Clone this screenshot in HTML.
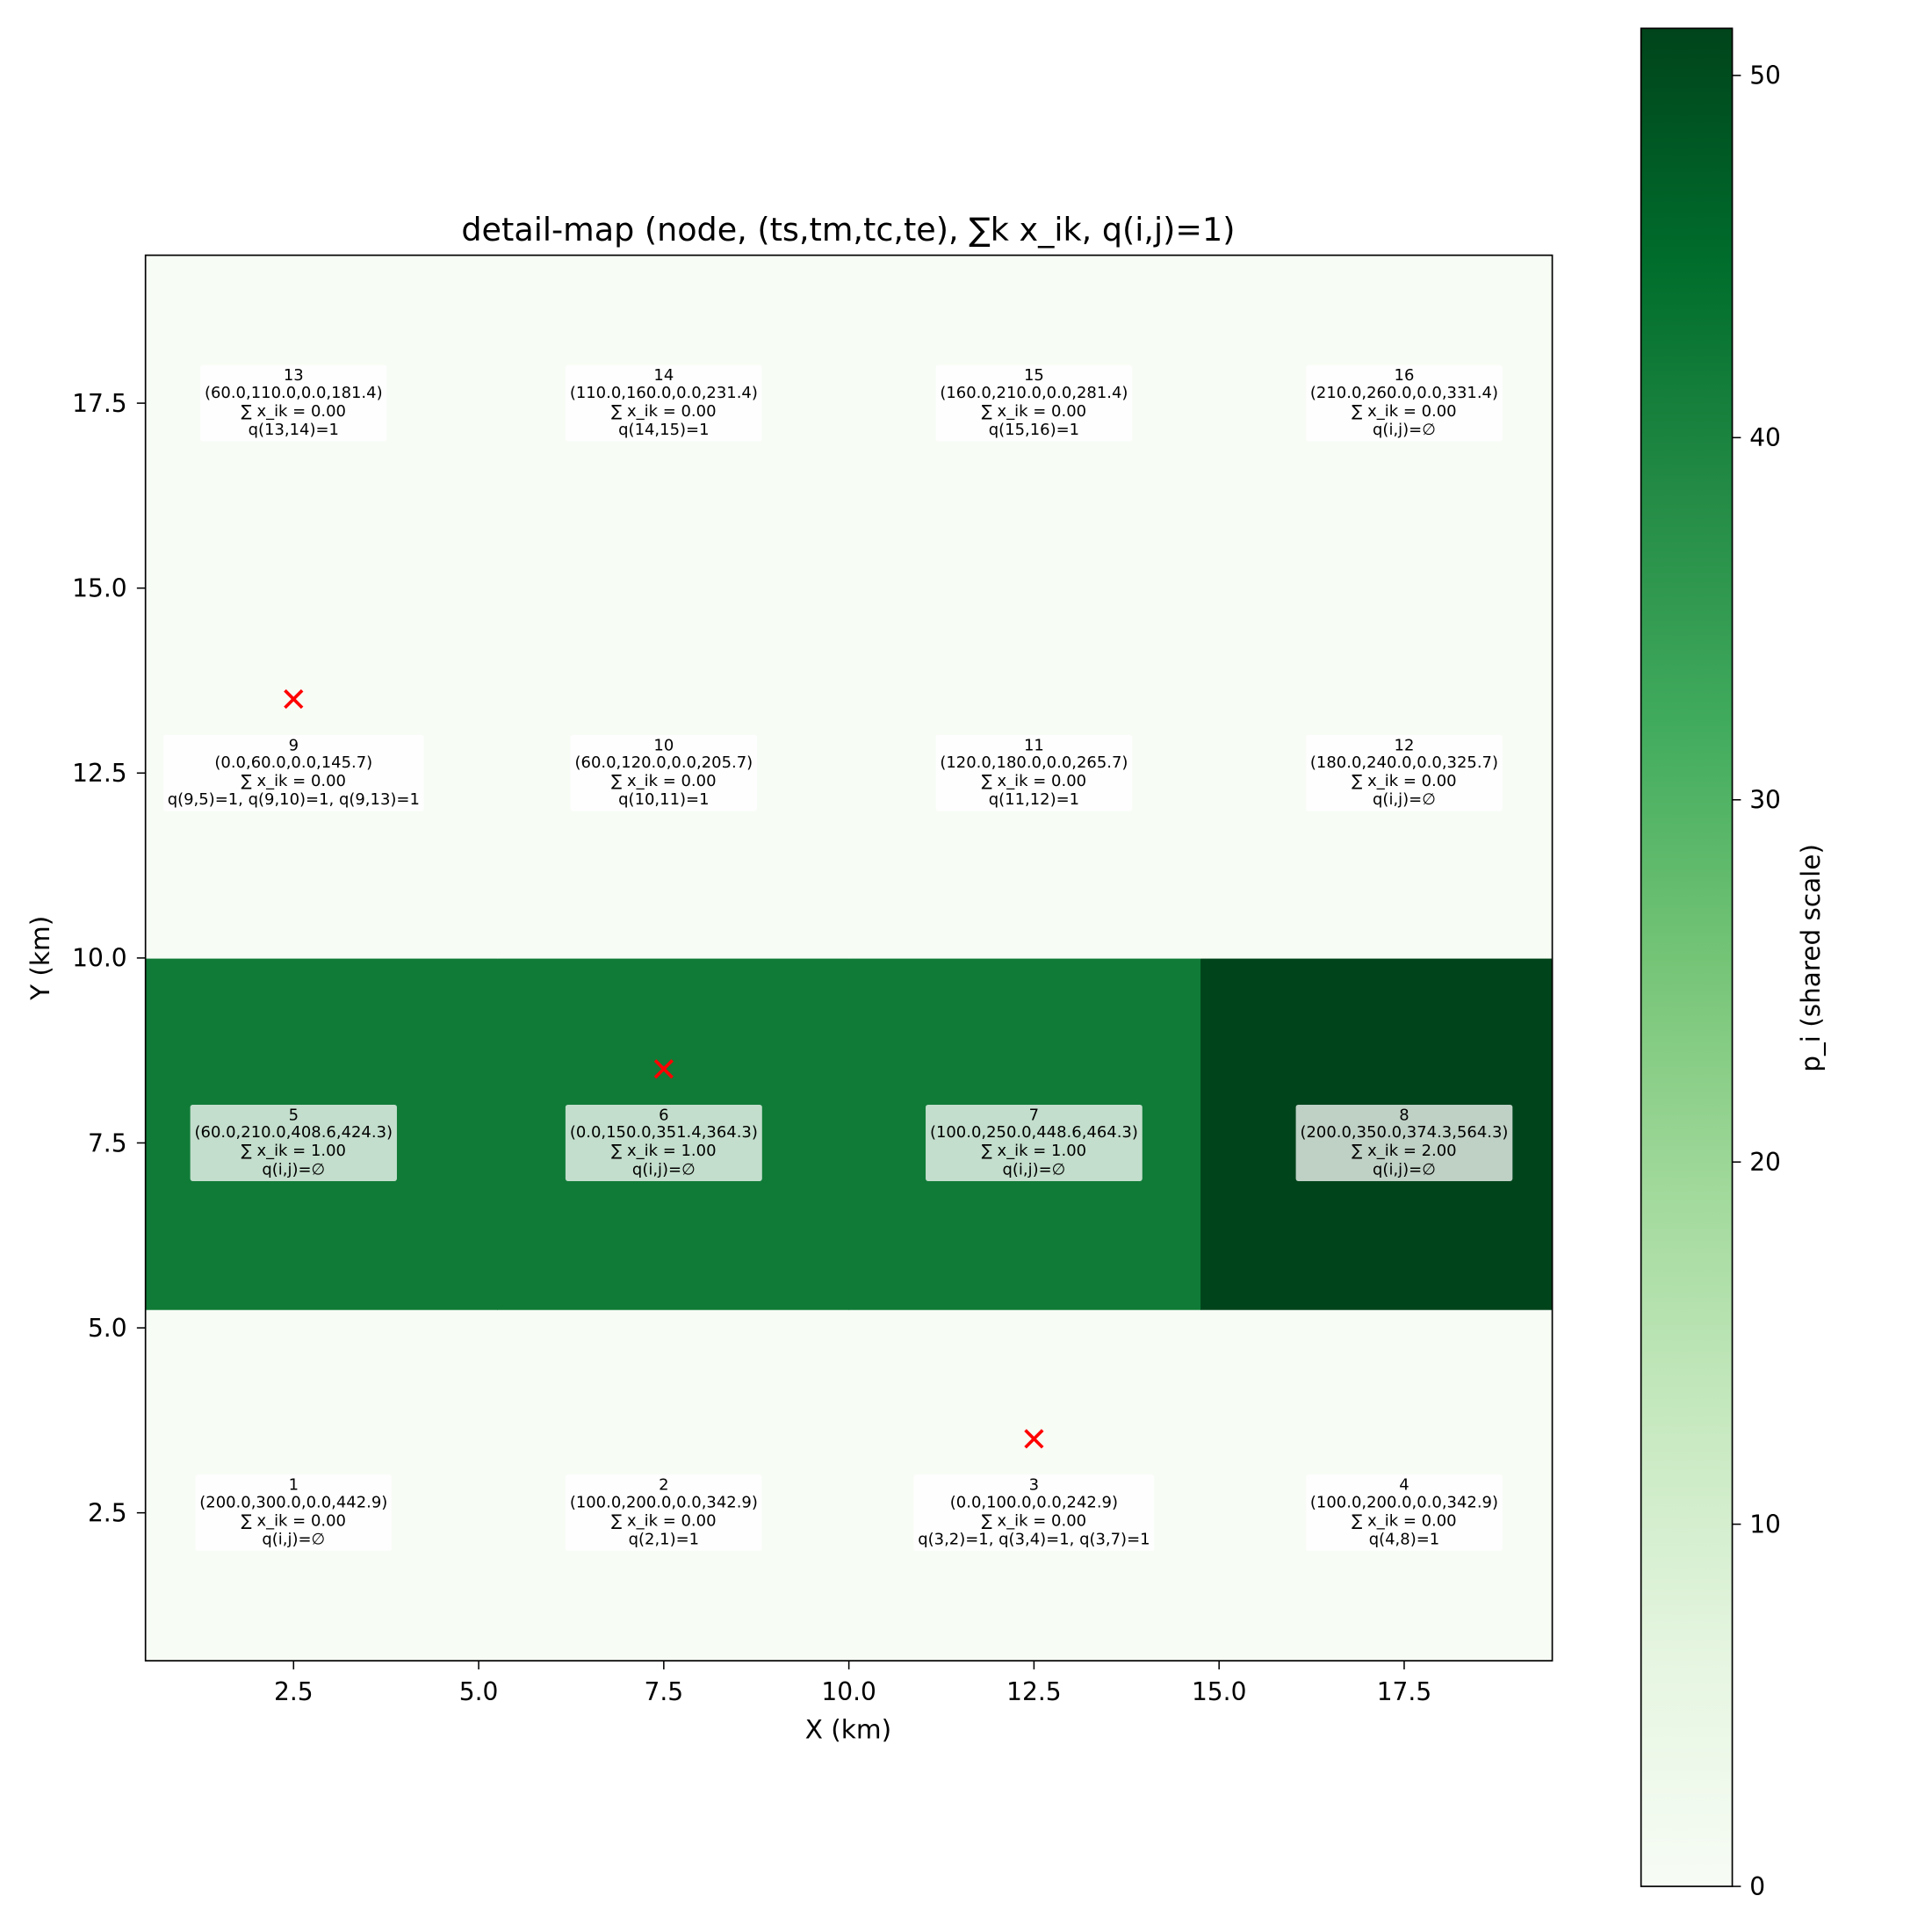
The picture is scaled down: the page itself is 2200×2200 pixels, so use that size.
<!DOCTYPE html>
<html><head><meta charset="utf-8"><style>
html,body{margin:0;padding:0;background:#fff}
svg{display:block}
text{font-family:"DejaVu Sans","Liberation Sans",sans-serif;fill:#000}
</style></head><body>
<svg id="chart" width="2200" height="2200" viewBox="0 0 1567 1567" xmlns="http://www.w3.org/2000/svg">
<g id="cells"></g>
<g id="labels"></g>
<g id="markers"></g>
<rect x="118" y="207" width="1141" height="1140" fill="none" stroke="#000" stroke-width="1.2"/>
<g id="axes"></g>
<text x="688" y="195" font-size="26" text-anchor="middle">detail-map (node, (ts,tm,tc,te), ∑k x_ik, q(i,j)=1)</text>
<text x="688" y="1410" font-size="21" text-anchor="middle">X (km)</text>
<text transform="translate(40,777) rotate(-90)" font-size="21" text-anchor="middle">Y (km)</text>
<defs><linearGradient id="greens" x1="0" y1="1" x2="0" y2="0">
<stop offset="0" stop-color="#f7fcf5"/><stop offset="0.125" stop-color="#e5f5e0"/><stop offset="0.25" stop-color="#c7e9c0"/><stop offset="0.375" stop-color="#a1d99b"/><stop offset="0.5" stop-color="#74c476"/><stop offset="0.625" stop-color="#41ab5d"/><stop offset="0.75" stop-color="#238b45"/><stop offset="0.875" stop-color="#006d2c"/><stop offset="1" stop-color="#00441b"/></linearGradient></defs>
<rect x="1331" y="23" width="74" height="1507" fill="url(#greens)" stroke="#000" stroke-width="1.2"/>
<g id="cbticks"></g>
<text transform="translate(1476,777) rotate(-90)" font-size="21" text-anchor="middle">p_i (shared scale)</text>
</svg>
<script>
const xEdges=[0.5,5.25,10,14.75,19.5];
const yEdges=[0.5,5.25,10,14.75,19.5];
const cellValues=[[0,0,0,0],[42,42,42,51.3],[0,0,0,0],[0,0,0,0]];
const vmax=51.3;
const nodeX=[2.5,7.5,12.5,17.5];
const nodeY=[2.5,7.5,12.5,17.5];
const nodeLabels=[
["1","(200.0,300.0,0.0,442.9)","∑ x_ik = 0.00","q(i,j)=∅"],
["2","(100.0,200.0,0.0,342.9)","∑ x_ik = 0.00","q(2,1)=1"],
["3","(0.0,100.0,0.0,242.9)","∑ x_ik = 0.00","q(3,2)=1, q(3,4)=1, q(3,7)=1"],
["4","(100.0,200.0,0.0,342.9)","∑ x_ik = 0.00","q(4,8)=1"],
["5","(60.0,210.0,408.6,424.3)","∑ x_ik = 1.00","q(i,j)=∅"],
["6","(0.0,150.0,351.4,364.3)","∑ x_ik = 1.00","q(i,j)=∅"],
["7","(100.0,250.0,448.6,464.3)","∑ x_ik = 1.00","q(i,j)=∅"],
["8","(200.0,350.0,374.3,564.3)","∑ x_ik = 2.00","q(i,j)=∅"],
["9","(0.0,60.0,0.0,145.7)","∑ x_ik = 0.00","q(9,5)=1, q(9,10)=1, q(9,13)=1"],
["10","(60.0,120.0,0.0,205.7)","∑ x_ik = 0.00","q(10,11)=1"],
["11","(120.0,180.0,0.0,265.7)","∑ x_ik = 0.00","q(11,12)=1"],
["12","(180.0,240.0,0.0,325.7)","∑ x_ik = 0.00","q(i,j)=∅"],
["13","(60.0,110.0,0.0,181.4)","∑ x_ik = 0.00","q(13,14)=1"],
["14","(110.0,160.0,0.0,231.4)","∑ x_ik = 0.00","q(14,15)=1"],
["15","(160.0,210.0,0.0,281.4)","∑ x_ik = 0.00","q(15,16)=1"],
["16","(210.0,260.0,0.0,331.4)","∑ x_ik = 0.00","q(i,j)=∅"]];
const markerX=[2.5,7.5,12.5];
const markerY=[13.5,8.5,3.5];
const xTicks=[2.5,5.0,7.5,10.0,12.5,15.0,17.5];
const yTicks=[2.5,5.0,7.5,10.0,12.5,15.0,17.5];
const cbTicks=[0,10,20,30,40,50];

const NS="http://www.w3.org/2000/svg";
const X=v=>118+(v-0.5)/19*1141;
const Y=v=>1347-(v-0.5)/19*1140;
const CB=v=>1530-v/vmax*1507;
const stops=["#f7fcf5","#e5f5e0","#c7e9c0","#a1d99b","#74c476","#41ab5d","#238b45","#006d2c","#00441b"];
function color(v){let t=Math.max(0,Math.min(1,v/vmax))*8;let i=Math.min(7,Math.floor(t)),f=t-i;
const a=stops[i],b=stops[i+1];const p=(s,k)=>parseInt(s.substr(1+2*k,2),16);
return "rgb("+[0,1,2].map(k=>Math.round(p(a,k)+(p(b,k)-p(a,k))*f)).join(",")+")";}
function el(t,at,parent){const e=document.createElementNS(NS,t);for(const k in at)e.setAttribute(k,at[k]);parent.appendChild(e);return e;}
const cells=document.getElementById('cells');
for(let r=0;r<4;r++)for(let c=0;c<4;c++){
const e=el('rect',{x:X(xEdges[c]),y:Y(yEdges[r+1]),width:X(xEdges[c+1])-X(xEdges[c])+0.5,height:Y(yEdges[r])-Y(yEdges[r+1])+0.5,fill:color(cellValues[r][c])},cells);

}
const labels=document.getElementById('labels');
for(let i=0;i<16;i++){const cx=X(nodeX[i%4]),cy=Y(nodeY[Math.floor(i/4)]);
const g=el('g',{},labels);


const bg=el('rect',{fill:'#fff','fill-opacity':0.75,rx:2},g);
const offs=[-23,-9,6,21];let maxw=0;
nodeLabels[i].forEach((s,k)=>{const t=el('text',{x:cx,y:cy+offs[k]+4.5,'font-size':12.8,'text-anchor':'middle'},g);t.textContent=s;maxw=Math.max(maxw,t.getComputedTextLength());});
const w=maxw+7;bg.setAttribute('x',cx-w/2);bg.setAttribute('y',cy-31);bg.setAttribute('width',w);bg.setAttribute('height',62);}
const mk=document.getElementById('markers');
for(let i=0;i<markerX.length;i++){const x=X(markerX[i]),y=Y(markerY[i]),d=7;
const g=el('g',{stroke:'#ff0000','stroke-width':2.6},mk);


el('line',{x1:x-d,y1:y-d,x2:x+d,y2:y+d},g);el('line',{x1:x-d,y1:y+d,x2:x+d,y2:y-d},g);}
const ax=document.getElementById('axes');
xTicks.forEach(v=>{el('line',{x1:X(v),x2:X(v),y1:1347,y2:1354,stroke:'#000','stroke-width':1.1},ax);
const t=el('text',{x:X(v),y:1379,'font-size':20,'text-anchor':'middle'},ax);t.textContent=v.toFixed(1);

});
yTicks.forEach(v=>{el('line',{x1:111,x2:118,y1:Y(v),y2:Y(v),stroke:'#000','stroke-width':1.1},ax);
const t=el('text',{x:103,y:Y(v)+7,'font-size':20,'text-anchor':'end'},ax);t.textContent=v.toFixed(1);

});
const cb=document.getElementById('cbticks');
cbTicks.forEach(v=>{el('line',{x1:1405,x2:1412,y1:CB(v),y2:CB(v),stroke:'#000','stroke-width':1.1},cb);
const t=el('text',{x:1419,y:CB(v)+7,'font-size':20},cb);t.textContent=v;

});
</script>
</body></html>
